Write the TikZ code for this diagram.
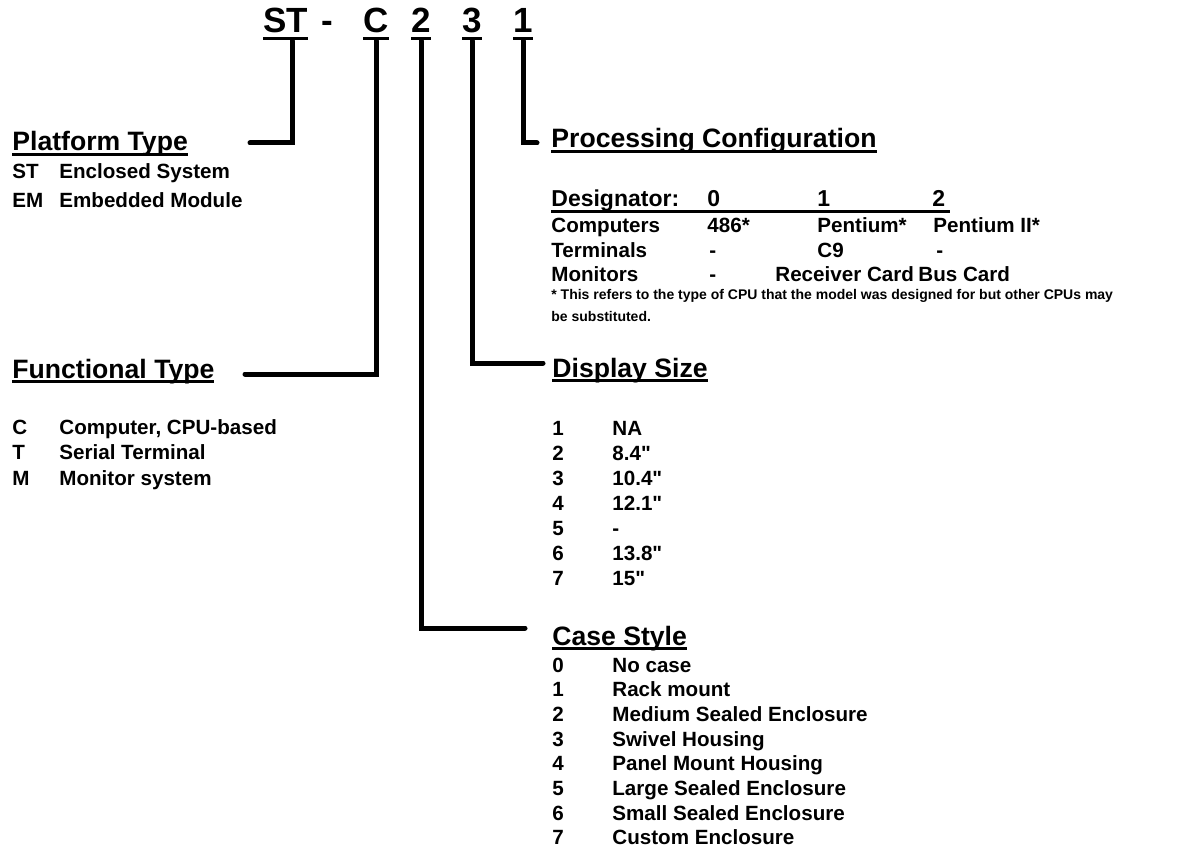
\documentclass[tikz,border=0pt]{standalone}
\usepackage{fontspec}
\setmainfont{Liberation Sans}
\usetikzlibrary{calc}
% underlined text for headings and for the part number
\newcommand{\hul}[1]{\setbox0\hbox{#1}\rlap{\rule[-2.4pt]{\wd0}{1.2pt}}\box0}
\newcommand{\tul}[1]{\setbox0\hbox{#1}\rlap{\rule[-3.75pt]{\wd0}{1.5pt}}\box0}

\begin{document}
\begin{tikzpicture}[
    x=0.5pt, y=-0.5pt,
    partno/.style={inner sep=0pt, anchor=base west,
                   font=\fontsize{17.5}{20}\selectfont\bfseries},
    head/.style={inner sep=0pt, anchor=base west,
                 font=\fontsize{13.3}{16}\selectfont\bfseries},
    item/.style={inner sep=0pt, anchor=base west,
                 font=\fontsize{10.3}{12}\selectfont\bfseries},
    dsgrow/.style={inner sep=0pt, anchor=base west,
                   font=\fontsize{11.5}{13}\selectfont\bfseries},
    fnote/.style={inner sep=0pt, anchor=base west, align=left,
                  font=\fontsize{7}{11}\selectfont\bfseries},
    conn/.style={line width=2.5pt, line cap=round, line join=miter},
]
\useasboundingbox (0,0) rectangle (1203,850);

% part number
\node[partno] (st)   at (263,33) {\tul{ST}};
\node[partno] (dash) at (321,33) {-};
\node[partno] (cc)   at (363,33) {\tul{C}};
\node[partno] (c2)   at (411,33) {\tul{2}};
\node[partno] (c3)   at (462,33) {\tul{3}};
\node[partno] (c1)   at (513,33) {\tul{1}};

% connectors
\coordinate (pfend) at (250,143);
\coordinate (pcend) at (537,143);
\coordinate (ftend) at (245,374);
\coordinate (dsend) at (543,363);
\coordinate (csend) at (525,628);
\draw[conn] ([xshift=3.3pt]st.south) |- (pfend);
\draw[conn] (c1.south) |- (pcend);
\draw[conn] (cc.south) |- (ftend);
\draw[conn] (c3.south) |- (dsend);
\draw[conn] (c2.south) |- (csend);

% Platform Type
\node[head] (plat)  at (12,151) {\hul{Platform Type}};
\node[item] (plST)  at (12,179) {ST};
\node[item] (plSTd) at (59,179) {Enclosed System};
\node[item] (plEM)  at (12,207) {EM};
\node[item] (plEMd) at (59,207) {Embedded Module};

% Processing Configuration
\node[head] (proc) at (551,148) {\hul{Processing Configuration}};
\node[dsgrow] (dsg)  at (551,206) {Designator:};
\node[dsgrow] (dsg0) at (707,206) {0};
\node[dsgrow] (dsg1) at (817,206) {1};
\node[dsgrow] (dsg2) at (932,206) {2};
\draw[line width=1.5pt] ([yshift=-3pt]dsg.base west) -- ([yshift=-3pt,xshift=2pt]dsg2.base east);
\node[item] (cmp)  at (551,233) {Computers};
\node[item] (cmp0) at (707,233) {486*};
\node[item] (cmp1) at (817,233) {Pentium*};
\node[item] (cmp2) at (933,233) {Pentium II*};
\node[item] (trm)  at (551,257) {Terminals};
\node[item] (trm0) at (709,257) {-};
\node[item] (trm1) at (817,257) {C9};
\node[item] (trm2) at (936,257) {-};
\node[item] (mon)  at (551,281) {Monitors};
\node[item] (mon0) at (709,281) {-};
\node[item] (mon1) at (775,281) {Receiver Card};
\node[item] (mon2) at (918,281) {Bus Card};
\node[fnote] (fn) at (551,321) {* This refers to the type of CPU that the model was designed for but other CPUs may\\be substituted.};

% Functional Type
\node[head] (func) at (12,378) {\hul{Functional Type}};
\foreach \k/\v [count=\i from 0] in {C/{Computer, CPU-based}, T/Serial Terminal, M/Monitor system} {
  \node[item] (ftk\k) at (12,434+25.5*\i) {\k};
  \node[item] (ftv\k) at (59,434+25.5*\i) {\v};
}

% Display Size
\node[head] (disp) at (552,377) {\hul{Display Size}};
\foreach \k/\v [count=\i from 0] in {1/NA, 2/8.4\textquotedbl, 3/10.4\textquotedbl, 4/12.1\textquotedbl,
                                     5/-, 6/13.8\textquotedbl, 7/15\textquotedbl} {
  \node[item] (dsk\k) at (552,435+25*\i) {\k};
  \node[item] (dsv\k) at (612,435+25*\i) {\v};
}

% Case Style
\node[head] (cstyle) at (552,645) {\hul{Case Style}};
\foreach \k/\v in {0/No case, 1/Rack mount, 2/Medium Sealed Enclosure, 3/Swivel Housing,
                   4/Panel Mount Housing, 5/Large Sealed Enclosure, 6/Small Sealed Enclosure,
                   7/Custom Enclosure} {
  \node[item] (csk\k) at (552,672+24.7*\k) {\k};
  \node[item] (csv\k) at (612,672+24.7*\k) {\v};
}
\end{tikzpicture}
\end{document}
